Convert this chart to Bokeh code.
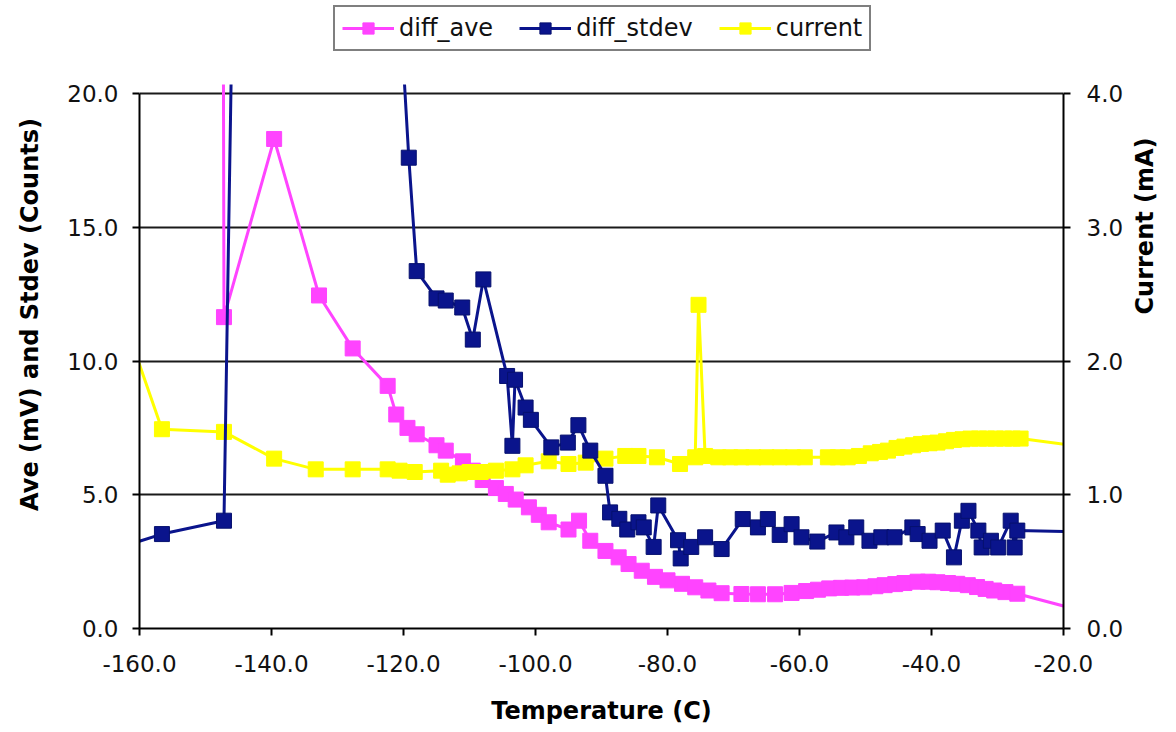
import math
from bokeh.plotting import figure
from bokeh.models import (Range1d, LinearAxis, FixedTicker, PrintfTickFormatter,
                          Legend, LegendItem)
from bokeh.embed import file_html
from bokeh.resources import INLINE

# ---------------- data (values that leave the
# top of the chart are only known to lie above it) ----------------
temp_ave = [-147.3, -147.2, -139.6, -132.8, -127.7, -122.4, -121.1, -119.4, -118.0, -115.0,
            -113.6, -111.0, -109.5, -108.0, -106.0, -104.5, -103.0, -101.0, -99.5, -98.0,
            -95.0, -93.4, -91.7, -89.4, -87.4, -85.9, -83.9, -81.9, -80.0, -77.8,
            -75.8, -73.8, -71.8, -68.8, -66.3, -63.7, -61.2, -59.0, -57.2, -55.5,
            -53.7, -52.0, -50.2, -48.5, -47.1, -45.5, -44.1, -42.1, -40.5, -39.1,
            -37.5, -36.1, -34.5, -33.1, -31.8, -30.5, -28.8, -27.0, -14.0]
diff_ave = [22.8, 11.64, 18.3, 12.45, 10.47, 9.07, 8.0, 7.5, 7.26, 6.85,
            6.65, 6.25, 5.9, 5.55, 5.25, 5.03, 4.82, 4.53, 4.25, 3.97,
            3.7, 4.03, 3.28, 2.9, 2.66, 2.41, 2.16, 1.93, 1.8, 1.67,
            1.54, 1.42, 1.32, 1.29, 1.28, 1.28, 1.33, 1.4, 1.45, 1.5,
            1.52, 1.53, 1.54, 1.58, 1.62, 1.66, 1.7, 1.75, 1.75, 1.73,
            1.7, 1.67, 1.62, 1.55, 1.48, 1.42, 1.36, 1.3, 0.45]

temp_std = [-164.0, -156.6, -147.2, -146.0, -120.0, -119.2, -118.0, -115.0,
            -113.6, -111.1, -109.5, -107.9, -104.3, -103.5, -103.1, -101.5, -100.7, -97.6,
            -95.1, -93.5, -91.7, -89.4, -88.7, -87.3, -86.1, -84.4, -83.6, -82.1,
            -81.4, -78.4, -78.0, -76.4, -74.3, -71.8, -68.6, -66.3, -64.8, -63.0,
            -61.2, -59.7, -57.3, -54.4, -52.9, -51.4, -49.4, -47.6, -45.6, -42.9,
            -42.1, -40.3, -38.3, -36.6, -35.4, -34.4, -32.9, -32.4, -31.0, -29.9,
            -28.0, -27.4, -27.0, -14.0]
diff_stdev = [2.95, 3.53, 4.03, 22.3, 21.0, 17.6, 13.36, 12.34,
              12.26, 12.0, 10.8, 13.05, 9.44, 6.83, 9.3, 8.26, 7.8, 6.77,
              6.95, 7.6, 6.65, 5.71, 4.34, 4.1, 3.7, 3.97, 3.78, 3.05,
              4.6, 3.3, 2.62, 3.05, 3.41, 2.97, 4.09, 3.78, 4.09, 3.5,
              3.9, 3.41, 3.25, 3.59, 3.41, 3.78, 3.28, 3.41, 3.41, 3.78,
              3.53, 3.28, 3.66, 2.66, 4.03, 4.4, 3.66, 3.03, 3.28, 3.03,
              4.03, 3.03, 3.66, 3.6]

temp_cur = [-163.0, -156.6, -147.2, -139.6, -133.3, -127.7, -122.4, -120.6, -118.3, -114.3,
            -113.3, -111.5, -110.0, -108.3, -106.0, -103.5, -101.5, -98.0, -95.0, -92.4,
            -89.4, -86.4, -84.4, -81.6, -78.1, -75.8, -75.3, -74.3, -72.3, -70.5,
            -68.8, -67.0, -65.0, -63.0, -61.0, -59.2, -55.7, -54.2, -52.7, -51.0,
            -49.2, -47.8, -46.6, -45.3, -44.1, -42.8, -41.6, -40.3, -39.1, -37.8,
            -36.6, -35.3, -34.1, -32.8, -31.6, -30.3, -29.0, -27.7, -26.5, -14.0]
current = [2.4, 1.49, 1.47, 1.27, 1.19, 1.19, 1.19, 1.18, 1.17, 1.18,
           1.15, 1.16, 1.17, 1.17, 1.18, 1.19, 1.22, 1.25, 1.23, 1.24,
           1.27, 1.29, 1.29, 1.28, 1.23, 1.28, 2.42, 1.29, 1.28, 1.28,
           1.28, 1.28, 1.28, 1.28, 1.28, 1.28, 1.28, 1.28, 1.28, 1.29,
           1.31, 1.32, 1.33, 1.35, 1.36, 1.37, 1.38, 1.385, 1.39, 1.40,
           1.41, 1.415, 1.42, 1.42, 1.42, 1.42, 1.42, 1.42, 1.42, 1.34]

x_ticks = [-160, -140, -120, -100, -80, -60, -40, -20]
y_ticks = [0, 5, 10, 15, 20]
y2_ticks = [0, 1, 2, 3, 4]

# ---------------- styling ----------------
MAGENTA = "#ff44ff"
NAVY = "#0a148c"
YELLOW = "#ffff00"
FONT = "DejaVu Sans"

W, H = 1176, 732
FRAME_L, FRAME_R, FRAME_T, FRAME_B = 139, 1066, 93, 628
X_MIN, X_MAX = -160.0, -20.0
Y_MAX = 20.0
px_per_unit = (FRAME_B - FRAME_T) / Y_MAX
y_top = Y_MAX + FRAME_T / px_per_unit       # frame reaches up to the legend
y2_top = y_top * 4.0 / Y_MAX

p = figure(width=W, height=H, output_backend="svg", toolbar_location=None,
           x_range=Range1d(X_MIN, X_MAX), y_range=Range1d(0, y_top),
           min_border_left=FRAME_L, min_border_right=W - FRAME_R,
           min_border_top=0, min_border_bottom=H - FRAME_B)
p.outline_line_color = None
p.background_fill_color = "white"
p.border_fill_color = "white"
p.extra_y_ranges = {"cur": Range1d(0, y2_top)}

# grid
p.xgrid.visible = False
p.ygrid.ticker = FixedTicker(ticks=y_ticks)
p.ygrid.grid_line_color = "#1a1a1a"
p.ygrid.grid_line_width = 2

def style_axis(ax, ticks, label, label_standoff, tick_standoff):
    ax.ticker = FixedTicker(ticks=ticks)
    ax.formatter = PrintfTickFormatter(format="%.1f")
    ax.axis_line_color = "black"
    ax.axis_line_width = 2
    ax.major_tick_line_color = "black"
    ax.major_tick_line_width = 2
    ax.major_tick_in = 0
    ax.major_tick_out = 7
    ax.minor_tick_line_color = None
    ax.major_label_text_font = FONT
    ax.major_label_text_font_size = "23px"
    ax.major_label_text_color = "#111111"
    ax.major_label_standoff = tick_standoff
    ax.axis_label = label
    ax.axis_label_text_font = FONT
    ax.axis_label_text_font_size = "24px"
    ax.axis_label_text_font_style = "bold"
    ax.axis_label_text_color = "black"
    ax.axis_label_standoff = label_standoff

style_axis(p.xaxis[0], x_ticks, "Temperature (C)", 22, 19)
style_axis(p.yaxis[0], y_ticks, "Ave (mV) and Stdev (Counts)", 20, 14)
p.yaxis[0].bounds = (0, 20)

y2 = LinearAxis(y_range_name="cur", bounds=(0, 4))
style_axis(y2, y2_ticks, "Current (mA)", 19, 16)
y2.axis_label_orientation = math.pi / 2
p.add_layout(y2, "right")

# series (drawing order: diff_ave, current, diff_stdev)
l_ave = p.line(temp_ave, diff_ave, line_color=MAGENTA, line_width=3)
s_ave = p.scatter(temp_ave, diff_ave, marker="square", size=15,
                  fill_color=MAGENTA, line_color=MAGENTA)

l_cur = p.line(temp_cur, current, line_color=YELLOW, line_width=3, y_range_name="cur")
s_cur = p.scatter(temp_cur, current, marker="square", size=15,
                  fill_color=YELLOW, line_color=YELLOW, y_range_name="cur")

l_std = p.line(temp_std, diff_stdev, line_color=NAVY, line_width=3)
s_std = p.scatter(temp_std, diff_stdev, marker="square", size=15,
                  fill_color=NAVY, line_color="#06106e")

# white mask over the area above the plot (series are cut just above 20)
p.quad(left=[X_MIN - 50], right=[X_MAX + 50], bottom=[Y_MAX + 10 / px_per_unit],
       top=[y_top + 50], fill_color="white", line_color="white", line_width=2)

legend = Legend(items=[LegendItem(label="diff_ave", renderers=[l_ave, s_ave]),
                       LegendItem(label="diff_stdev", renderers=[l_std, s_std]),
                       LegendItem(label="current", renderers=[l_cur, s_cur])],
                orientation="horizontal",
                location=(333 - FRAME_L, FRAME_B - 51))
legend.label_text_font = FONT
legend.label_text_font_size = "24px"
legend.label_text_color = "#111111"
legend.glyph_width = 52
legend.glyph_height = 28
legend.label_standoff = 5
legend.spacing = 26
legend.padding = 7
legend.margin = 0
legend.border_line_color = "black"
legend.border_line_width = 2
legend.background_fill_color = "white"
legend.background_fill_alpha = 1.0
p.add_layout(legend, "center")

open("out.html", "w").write(file_html(p, INLINE))
